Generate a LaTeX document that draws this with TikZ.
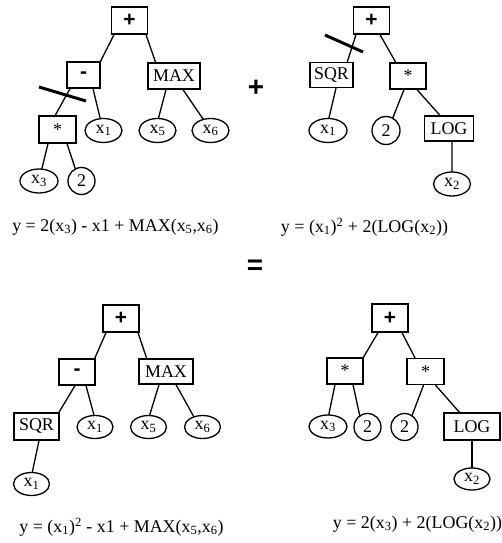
\documentclass[tikz,border=0pt]{standalone}
\usepackage{fontspec}
\setmainfont{Liberation Serif}
\newfontfamily\opfont{Liberation Sans}
\usetikzlibrary{shapes.geometric,backgrounds}

% leaf labels with subscripts
\newcommand\xv[1]{x\textsubscript{#1}}
% tree edge: from the parent's lower side to the child's upper side
\newcommand\link[4]{\draw[edge] ([xshift=#2bp]#1.south) -- ([xshift=#4bp,yshift=-4bp]#3.north);}

\tikzset{
  treefont/.style={font=\fontsize{18}{18}\selectfont},
  opbox/.style={draw, rectangle, line width=1.3bp, fill=white, inner sep=0pt,
    minimum width=36bp, minimum height=27bp, treefont},
  leaf/.style={draw, ellipse, line width=1.3bp, fill=white, inner sep=0pt,
    minimum width=37bp, minimum height=24bp, treefont},
  const/.style={draw, circle, line width=1.3bp, fill=white, inner sep=0pt,
    minimum size=27bp, treefont},
  edge/.style={line width=1.3bp},
  cut/.style={line width=3bp},
  formula/.style={inner sep=0pt, font=\fontsize{18}{18}\selectfont},
  bigsym/.style={inner sep=0pt, font=\opfont\bfseries\fontsize{28}{28}\selectfont}
}
\newcommand\plusop{{\opfont\bfseries\fontsize{21}{21}\selectfont +}}
\newcommand\minusop{{\opfont\bfseries\fontsize{21}{21}\selectfont -}}

\begin{document}
\begin{tikzpicture}[x=1bp, y=-1bp]
\useasboundingbox (0,0) rectangle (502,543);

% ---------- parent 1 ----------
\node[opbox] (aplus) at (129.5,20.5) {\plusop};
\node[opbox, minimum width=33bp, minimum height=26bp] (aminus) at (83.5,75) {\minusop};
\node[opbox, minimum width=52bp, minimum height=26bp] (amax) at (174,76) {MAX};
\node[opbox, minimum width=37bp] (atimes) at (57.5,129.5) {*};
\node[leaf] (ax1) at (103.5,130.5) {\xv{1}};
\node[leaf] (ax5) at (157.5,130.5) {\xv{5}};
\node[leaf] (ax6) at (210.5,130.5) {\xv{6}};
\node[leaf, minimum width=38bp] (ax3) at (39,181) {\xv{3}};
\node[const] (atwo) at (81.5,181) {2};
\begin{scope}[on background layer]
  \link{aplus}{-15.5}{aminus}{15}
  \link{aplus}{16.5}{amax}{-17}
  \link{aminus}{-13.5}{atimes}{-4.5}
  \link{aminus}{9.5}{ax1}{-2.5}
  \link{amax}{-8}{ax5}{0}
  \link{amax}{9}{ax6}{-5.5}
  \link{atimes}{-9.5}{ax3}{2}
  \link{atimes}{9.5}{atwo}{-5.5}
\end{scope}
\draw[cut] (39,87) -- (86,101);
\node[formula] (fa) at (115.5,227) {y = 2(\xv{3}) - x1 + MAX(\xv{5},\xv{6})};

\node[bigsym] (plussign) at (256,88) {+};

% ---------- parent 2 ----------
\node[opbox] (bplus) at (371.5,20.5) {\plusop};
\node[opbox, minimum width=43bp, minimum height=25bp] (bsqr) at (331.5,75) {SQR};
\node[opbox, minimum height=26bp] (btimes) at (408,76) {*};
\node[leaf, minimum width=38bp] (bx1) at (328,130.5) {\xv{1}};
\node[const, minimum size=28bp] (btwo) at (386,130.5) {2};
\node[opbox, minimum width=49bp, minimum height=25bp] (blog) at (449,128.5) {LOG};
\node[leaf] (bx2) at (452,184) {\xv{2}};
\begin{scope}[on background layer]
  \link{bplus}{-15.5}{bsqr}{14.5}
  \link{bplus}{8.5}{btimes}{-10}
  \link{bsqr}{4.5}{bx1}{0}
  \link{btimes}{-4}{btwo}{6}
  \link{btimes}{9}{blog}{-5.5}
  \link{blog}{3}{bx2}{0}
\end{scope}
\draw[cut] (325,35) -- (363,52);
\node[formula] (fb) at (364.5,227) {y = (\xv{1})\textsuperscript{2} + 2(LOG(\xv{2}))};

\node[bigsym] (eqsign) at (255,267) {=};

% ---------- child 1 ----------
\node[opbox] (cplus) at (121,318.5) {\plusop};
\node[opbox, minimum height=26bp] (cminus) at (77,372) {\minusop};
\node[opbox, minimum width=54bp, minimum height=25bp] (cmax) at (166,371.5) {MAX};
\node[opbox, minimum width=45bp] (csqr) at (36.5,426.5) {SQR};
\node[leaf, minimum width=36bp, minimum height=23bp] (cx1) at (95,427) {\xv{1}};
\node[leaf, minimum width=36bp, minimum height=23bp] (cx5) at (148.5,427) {\xv{5}};
\node[leaf, minimum width=36bp, minimum height=23bp] (cx6) at (202.5,427) {\xv{6}};
\node[leaf, minimum width=36bp, minimum height=23bp] (cx1b) at (31.5,484) {\xv{1}};
\begin{scope}[on background layer]
  \link{cplus}{-15}{cminus}{16}
  \link{cplus}{17}{cmax}{-18}
  \link{cminus}{-2}{csqr}{20}
  \link{cminus}{9}{cx1}{0}
  \link{cmax}{-7}{cx5}{0}
  \link{cmax}{10}{cx6}{-7.5}
  \link{csqr}{2.5}{cx1b}{0}
\end{scope}
\node[formula] (fc) at (121.5,527) {y = (\xv{1})\textsuperscript{2} - x1 + MAX(\xv{5},\xv{6})};

% ---------- child 2 ----------
\node[opbox, minimum height=28bp] (dplus) at (390,318) {\plusop};
\node[opbox, minimum height=26bp] (dtimesa) at (345,371) {*};
\node[opbox, minimum width=37bp, minimum height=26bp] (dtimesb) at (425.5,371.5) {*};
\node[leaf, minimum width=38bp, minimum height=23bp] (dx3) at (328,426.5) {\xv{3}};
\node[const] (dtwoa) at (367.5,427) {2};
\node[const] (dtwob) at (404.5,427) {2};
\node[opbox, minimum width=56bp] (dlog) at (472,426.5) {LOG};
\node[leaf, minimum width=36bp, minimum height=22bp] (dx2) at (472,479) {\xv{2}};
\begin{scope}[on background layer]
  \link{dplus}{-12}{dtimesa}{16}
  \link{dplus}{12}{dtimesb}{-8.5}
  \link{dtimesa}{-10}{dx3}{0}
  \link{dtimesa}{8}{dtwoa}{-7.5}
  \link{dtimesb}{-2}{dtwob}{7}
  \link{dtimesb}{10}{dlog}{-9}
  \link{dlog}{0}{dx2}{0}
\end{scope}
\node[formula] (fd) at (417.5,524) {y = 2(\xv{3}) + 2(LOG(\xv{2}))};
\end{tikzpicture}
\end{document}
